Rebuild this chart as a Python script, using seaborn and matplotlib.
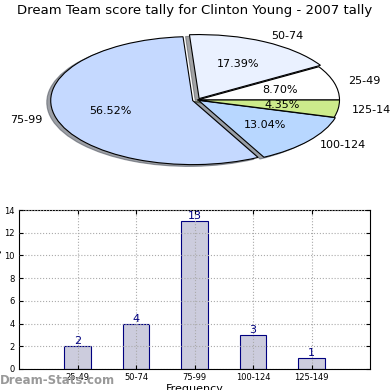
import pandas as pd
import matplotlib
matplotlib.use("Agg")
import matplotlib.pyplot as plt
import seaborn as sns

# score ranges and how many times each came up
ranges = ["25-49", "50-74", "75-99", "100-124", "125-149"]
counts = [2, 4, 13, 3, 1]
slice_colors = ["#ffffff", "#eaf1ff", "#c5d9ff", "#b8d7ff", "#cdeb8b"]

sns.set_style("white")
plt.rcParams["font.family"] = ["DejaVu Sans"]
plt.rcParams.update({"text.color": "black", "axes.labelcolor": "black",
                     "xtick.color": "black", "ytick.color": "black"})

fig = plt.figure(figsize=(3.9, 3.9), dpi=100)

# pie on top, squashed (aspect not equal)
ax1 = fig.add_axes([20 / 390, 210 / 390, 355 / 390, 160 / 390])
ax1.pie(counts, labels=ranges, colors=slice_colors, autopct="%.2f%%",
        explode=[0, 0.025, 0.035, 0.01, 0], shadow=True, startangle=0,
        wedgeprops={"edgecolor": "black", "linewidth": 0.8},
        textprops={"fontsize": 8, "color": "black"},
        labeldistance=1.1, pctdistance=0.6)
ax1.set_aspect("auto")
ax1.set_xlim(-1.25, 1.25)
ax1.set_ylim(-1.25, 1.25)
fig.text(0.5, 0.972, "Dream Team score tally for Clinton Young - 2007 tally",
         ha="center", va="center", fontsize=9.5)

# bar chart below
df = pd.DataFrame({"range": ranges, "count": counts})
ax2 = fig.add_axes([19 / 390, 21 / 390, 351 / 390, 159 / 390])
sns.barplot(data=df, x="range", y="count", ax=ax2, color="#ccccdd",
            edgecolor="#000080", linewidth=0.8, width=0.45, saturation=1)
for i, c in enumerate(counts):
    ax2.text(i, c, str(c), ha="center", va="bottom", color="#000080", fontsize=8)
ax2.set_xlim(-1, 5)
ax2.set_ylim(0, 14)
ax2.set_yticks(range(0, 15, 2))
ax2.tick_params(labelsize=6, direction="in", length=3, top=True, right=True,
                bottom=True, left=True, pad=3)
ax2.grid(True, linestyle=":", color="#aaaaaa", linewidth=0.8)
ax2.set_axisbelow(False)
for sp in ax2.spines.values():
    sp.set_color("black")
    sp.set_linewidth(0.8)
ax2.set_xlabel("Frequency", fontsize=8, labelpad=1)
ax2.set_ylabel("Total Meet Tally", fontsize=8, labelpad=2)

fig.text(0.0, 0.025, "Dream-Stats.com", color="#999999", fontsize=8.5,
         fontweight="bold", ha="left", va="center")

fig.savefig("out.png", dpi=100)
